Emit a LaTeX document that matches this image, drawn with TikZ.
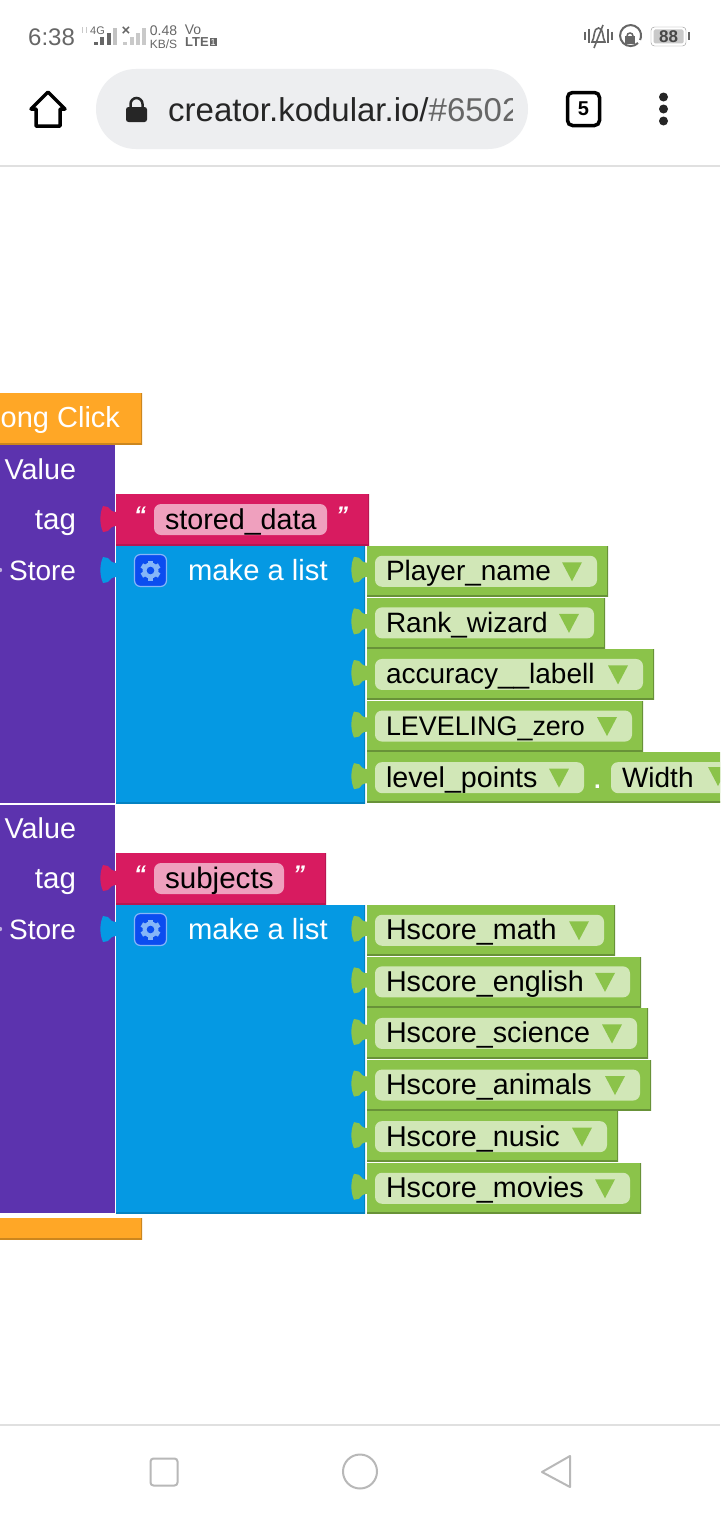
\documentclass[tikz,border=0pt]{standalone}
\usepackage{fontspec}
\setmainfont{Liberation Sans}
\usetikzlibrary{positioning}
\definecolor{kpurple}{HTML}{5C33AE}
\definecolor{kblue}{HTML}{0599E3}
\definecolor{kred}{HTML}{D81B60}
\definecolor{kgreen}{HTML}{8BC34A}
\definecolor{korange}{HTML}{FFA726}
\definecolor{kpillg}{HTML}{D1E7B7}
\definecolor{kpillr}{HTML}{EFA0BE}
\definecolor{kbar}{HTML}{EDEEF0}
\definecolor{kgrey}{HTML}{666666}
\definecolor{kgear}{HTML}{86B6F8}
\definecolor{kbtn}{HTML}{0B4DF0}
\tikzset{
  blk/.style={rectangle,inner sep=0pt,outer sep=0pt,anchor=north west,fill=#1},
  edged/.style={path picture={\draw[line width=3pt,#1] (path picture bounding box.south west) -- (path picture bounding box.south east) -- (path picture bounding box.north east);}},
  greenblk/.style={blk=kgreen,edged=kgreen!75!black,minimum height=50.5pt,minimum width=#1},
  nextrow/.style={below=1.1pt of #1.south west,anchor=north west},
  fs/.style={font=\fontsize{#1}{30}\selectfont},
  pill/.style={fill=kpillg,rounded corners=7pt,minimum height=31pt,inner xsep=11pt,inner ysep=0pt,outer sep=0pt,text width=#1,align=left,text height=19pt,text depth=0pt,fs=28.7},
  lbl/.style={inner sep=0pt,outer sep=0pt,text=white,text height=20pt,text depth=0pt,fs=28.7},
  quot/.style={lbl,font=\fontsize{24}{26}\bfseries\itshape\selectfont,text height=10pt},
  stat/.style={inner sep=0pt,text=kgrey,font=\fontsize{#1}{#1}\selectfont},
  tabpic/.pic={\path[pic actions] (1,-7) .. controls (-4,-7) and (-6,-9) .. (-8,-12) -- (-13,-13) .. controls (-16.5,-5) and (-16.5,5) .. (-13,13) -- (-8,12) .. controls (-6,9) and (-4,7) .. (1,7) -- cycle;},
  ddarrow/.pic={\fill[kgreen] (-10,-9) -- (10,-9) -- (0,10) -- cycle;},
  gearpic/.pic={
    \foreach \a in {0,60,...,300} {\fill[rotate=\a,kgear] (-2.5,-10) rectangle (2.5,-6);}
    \fill[kgear] (0,0) circle (8);
    \fill[kbtn] (0,0) circle (3.8);
  }
}
\begin{document}
\begin{tikzpicture}[x=1pt,y=-1pt]
\useasboundingbox (0,0) rectangle (720,1520);
\clip (0,0) rectangle (720,1520);
\fill[white] (0,0) rectangle (720,1520);
% status bar
\node[stat=24,anchor=west,text=kgrey] (clock) at (28,37) {6:38};
\draw[kgrey!35,line width=1pt] (82,33) -- (82,27) (86,27) -- (86,33);
\node[stat=11] (net) at (97.5,31) {4G};
\foreach \x/\h in {94/3,100/8,107/12} {\fill[kgrey] (\x,45) rectangle ++(3.5,-\h);}
\fill[kgrey!40] (113,45) rectangle ++(3.5,-17);
\node[stat=15] (nosim) at (126,31) {\textbf{×}};
\foreach \x/\h in {123/3,130/8,136/12,142/17} {\fill[kgrey!35] (\x,45) rectangle ++(3.5,-\h);}
\node[stat=14] (speed) at (163.5,31) {0.48};
\node[stat=12,below=3pt of speed] (unit) {KB/S};
\node[stat=14] (volte) at (193,30) {Vo};
\node[stat=13,anchor=west] (lte) at (185,42) {\textbf{LTE}};
\node[fill=kgrey,text=white,inner sep=1pt,font=\fontsize{9}{9}\selectfont,right=0.5pt of lte] (sim) {1};
\draw[kgrey,line width=1.6pt] (592,42) .. controls (595,38) and (593,28) .. (598.5,28) .. controls (604,28) and (602,38) .. (605,42) -- cycle;
\draw[kgrey,line width=1.6pt] (603,25) -- (594,48);
\foreach \x/\h in {585/4,589/7,608/7,612/4} {\draw[kgrey,line width=1.4pt] (\x,36-\h) -- (\x,36+\h);}
\draw[kgrey,line width=2pt] (638,43) arc (45:385:10.5);
\fill[kgrey] (625,36) rectangle (635,44);
\draw[kgrey,line width=1.5pt] (627,36) arc (180:360:3);
\node[draw=kgrey!70,fill=white,rounded corners=3.5pt,minimum width=35pt,minimum height=19pt,inner sep=0pt] (batt) at (668.5,36.5) {};
\node[fill=kgrey!35,rounded corners=1.5pt,minimum width=30pt,minimum height=14pt,inner sep=0pt,text=kgrey!120,font=\fontsize{17}{17}\bfseries\selectfont] (charge) at (668.5,36.5) {88};
\fill[kgrey] (688,32.5) rectangle (690,40);
% browser bar
\draw[black,line width=3.5pt,line join=round] (48,92) -- (31,109) -- (36,109) -- (36,126) -- (60,126) -- (60,109) -- (65,109) -- cycle;
\node[fill=kbar,rounded corners=39.9pt,minimum width=432pt,minimum height=80pt,inner sep=0pt] (urlbar) at (312,109) {};
\fill[black!85] (126,107) [rounded corners=2.5pt] rectangle (147,122);
\draw[black!85,line width=2.5pt] (130.5,108) -- (130.5,104) arc (180:360:6) -- (142.5,108);
\begin{scope}
\clip (160,80) rectangle (512,140);
\node[anchor=west,inner sep=0pt,text=black!85,font=\fontsize{33}{35}\selectfont] (url) at (168,110) {creator.kodular.io/\textcolor{kgrey}{\#6502}};
\end{scope}
\node[draw=black,line width=3.5pt,rounded corners=5pt,minimum width=32pt,minimum height=33pt,inner sep=0pt,font=\fontsize{20}{20}\bfseries\selectfont] (tabs) at (583.5,109) {5};
\foreach \y in {97,109,121} {\fill[black!85] (663.5,\y) circle (4.5);}
\draw[black!12,line width=2pt] (0,166) -- (720,166);
% blocks
\node[blk=korange,edged=korange!80!black,minimum width=142pt,minimum height=51pt] (ev) at (0,393) {};
\node[lbl,anchor=east,fs=29] (evt) at (120,417) {ong Click};
\node[blk=kpurple,minimum width=115pt,minimum height=358pt] (p1) at (0,445) {};
\node[blk=kpurple,minimum width=115pt,minimum height=408pt] (p2) at (0,805) {};
\node[blk=korange,edged=korange!80!black,minimum width=142pt,minimum height=21pt] (evend) at (0,1218) {};
\node[lbl,anchor=east] (v1) at (76,469) {Value};
\node[lbl,anchor=east,fs=29.5] (t1) at (76,519) {tag};
\node[lbl,anchor=east,fs=28] (s1) at (76,570) {Store};
\node[lbl,anchor=east] (v2) at (76,828) {Value};
\node[lbl,anchor=east,fs=29.5] (t2) at (76,878) {tag};
\node[lbl,anchor=east,fs=28] (s2) at (76,929) {Store};
\fill[kpurple!40] (0,570) circle (2.2);
\fill[kpurple!40] (0,929) circle (2.2);
% text blocks
\node[blk=kred,edged=kred!85!black,minimum width=253pt,minimum height=51pt] (r1) at (116,494) {};
\node[blk=kred,edged=kred!85!black,minimum width=210pt,minimum height=51pt] (r2) at (116,853) {};
\node[pill=151pt,fill=kpillr] (pr1) at (240.5,519.5) {stored\_data};
\node[pill=108pt,fill=kpillr,fs=29.6] (pr2) at (219,878.5) {subjects};
\node[quot] (q1) at (140,518) {“};
\node[quot] (q2) at (342,518) {”};
\node[quot] (q3) at (140,877) {“};
\node[quot] (q4) at (299,877) {”};
% list blocks
\node[blk=kblue,edged=kblue!85!black,minimum width=249pt,minimum height=257pt] (b1) at (116,546) {};
\node[blk=kblue,edged=kblue!85!black,minimum width=249pt,minimum height=308pt] (b2) at (116,905) {};
\node[fill=kbtn,draw=kgear,line width=1.2pt,rounded corners=6pt,minimum size=32pt,inner sep=0pt] (gb1) at (150.5,570.5) {};
\node[fill=kbtn,draw=kgear,line width=1.2pt,rounded corners=6pt,minimum size=32pt,inner sep=0pt] (gb2) at (150.5,929.5) {};
\node[lbl,right=21pt of gb1,fs=29.2] (m1) {make a list};
\node[lbl,right=21pt of gb2,fs=29.2] (m2) {make a list};
\pic at (gb1) {gearpic};
\pic at (gb2) {gearpic};
\pic[fill=kred] at (116,519) {tabpic};
\pic[fill=kblue] at (116,570) {tabpic};
\pic[fill=kred] at (116,878) {tabpic};
\pic[fill=kblue] at (116,929) {tabpic};
% first list
\node[greenblk=241pt] (g1) at (367,546) {};
\node[greenblk=238pt,nextrow=g1] (g2) {};
\node[greenblk=287pt,nextrow=g2] (g3) {};
\node[greenblk=276pt,nextrow=g3] (g4) {};
\node[greenblk=360pt,nextrow=g4] (g5) {};
\node[pill=200pt,fs=28,right=8pt of g1.west] (pg1) {Player\_name};
\node[pill=197pt,fs=28,right=8pt of g2.west] (pg2) {Rank\_wizard};
\node[pill=246pt,fs=28,right=8pt of g3.west] (pg3) {accuracy\_\_labell};
\node[pill=235pt,fs=26.9,right=8pt of g4.west] (pg4) {LEVELING\_zero};
\node[pill=187pt,right=8pt of g5.west] (pg5) {level\_points};
\node[pill=103pt,fs=28,right=27pt of pg5.east] (pw) {Width};
\node[lbl,below=7pt of pg5.east,xshift=13.5pt,font=\fontsize{24}{26}\bfseries\selectfont,text height=4pt] (dot) {.};
% second list
\node[greenblk=248pt] (h1) at (367,905) {};
\node[greenblk=274pt,nextrow=h1] (h2) {};
\node[greenblk=281pt,nextrow=h2] (h3) {};
\node[greenblk=284pt,nextrow=h3] (h4) {};
\node[greenblk=251pt,nextrow=h4] (h5) {};
\node[greenblk=274pt,nextrow=h5] (h6) {};
\node[pill=207pt,right=8pt of h1.west] (ph1) {Hscore\_math};
\node[pill=233pt,right=8pt of h2.west] (ph2) {Hscore\_english};
\node[pill=240pt,right=8pt of h3.west] (ph3) {Hscore\_science};
\node[pill=243pt,right=8pt of h4.west] (ph4) {Hscore\_animals};
\node[pill=210pt,right=8pt of h5.west] (ph5) {Hscore\_nusic};
\node[pill=233pt,right=8pt of h6.west] (ph6) {Hscore\_movies};
\foreach \n in {pg1,pg2,pg3,pg4,pg5,ph1,ph2,ph3,ph4,ph5,ph6} {\pic at ([xshift=-25pt]\n.east) {ddarrow};}
\pic at (718,776) {ddarrow};
\foreach \n in {g1,g2,g3,g4,g5,h1,h2,h3,h4,h5,h6} {\pic[fill=kgreen] at ([yshift=1.5pt]\n.west) {tabpic};}
% nav bar
\draw[black!12,line width=2pt] (0,1425) -- (720,1425);
\node[draw=black!28,line width=2pt,rounded corners=3pt,minimum size=27pt,inner sep=0pt] (navsq) at (164,1472) {};
\node[draw=black!28,line width=2pt,circle,minimum size=34pt,inner sep=0pt] (navc) at (360,1471.5) {};
\draw[black!28,line width=2pt,line join=round] (570,1456) -- (570,1487) -- (542,1472) -- cycle;
\end{tikzpicture}
\end{document}
